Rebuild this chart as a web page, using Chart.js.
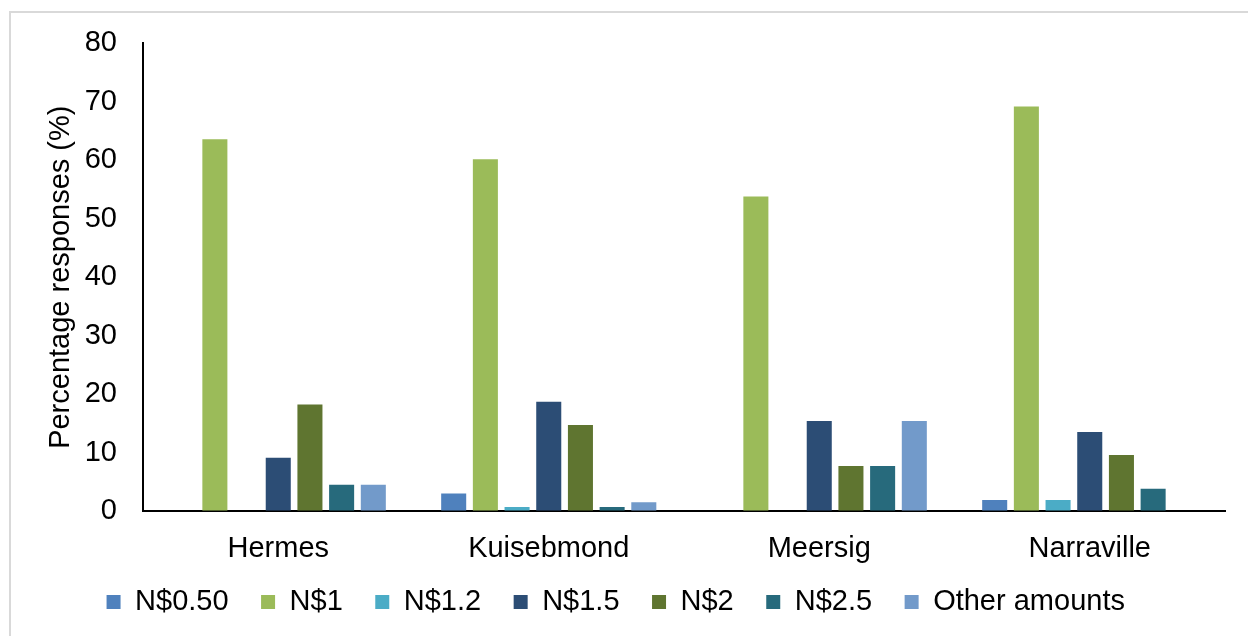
<!DOCTYPE html>
<html>
<head>
<meta charset="utf-8">
<title>Percentage responses by amount</title>
<script src="https://cdn.jsdelivr.net/npm/chart.js@4.4.1/dist/chart.umd.min.js"></script>
<style>
  html, body { margin: 0; padding: 0; background: #ffffff; overflow: hidden; }
  #frame {
    position: absolute; left: 9px; top: 11px;
    width: 1300px; height: 700px;
    border: 2px solid #d9d9d9; box-sizing: border-box;
  }
  #wrap { position: absolute; left: 0; top: 0; width: 1248px; height: 636px; }
</style>
</head>
<body>
<div id="frame"></div>
<div id="wrap"><canvas id="chart"></canvas></div>
<script>
// Areas surveyed
const categories = ['Hermes', 'Kuisebmond', 'Meersig', 'Narraville'];

// Share of responses (%) per amount
const n050  = [0,    3.0,  0,    1.9];
const n1    = [63.6, 60.2, 53.8, 69.2];
const n12   = [0,    0.7,  0,    1.9];
const n15   = [9.1,  18.7, 15.4, 13.5];
const n2    = [18.2, 14.7, 7.7,  9.6];
const n25   = [4.5,  0.7,  7.7,  3.8];
const other = [4.5,  1.5,  15.4, 0];

const seriesNames = ['N$0.50', 'N$1', 'N$1.2', 'N$1.5', 'N$2', 'N$2.5', 'Other amounts'];
const seriesValues = [n050, n1, n12, n15, n2, n25, other];
const seriesColors = ['#4F81BD', '#9BBB59', '#4BACC6', '#2C4D75', '#5F7530', '#276A7C', '#729ACA'];

// Y axis ticks
const yMin = 0, yMax = 80, yStep = 10;
const yTitle = 'Percentage responses (%)';

const FONT = '"Liberation Sans", Arial, Helvetica, sans-serif';

const datasets = seriesNames.map((name, i) => ({
  label: name,
  data: seriesValues[i],
  backgroundColor: seriesColors[i],
  borderWidth: 0,
  categoryPercentage: 0.82,
  barPercentage: 0.79
}));

// Pull the legend row up a little, closer to the category labels
const legendLift = {
  id: 'legendLift',
  afterLayout(chart) {
    const lg = chart.legend;
    if (lg) {
      lg.top -= 9; lg.bottom -= 9;
      lg.left -= 3; lg.right -= 3;
    }
  }
};

new Chart(document.getElementById('chart'), {
  type: 'bar',
  data: { labels: categories, datasets },
  plugins: [legendLift],
  options: {
    responsive: true,
    maintainAspectRatio: false,
    animation: false,
    layout: { padding: { top: 42, left: 12.5, right: 23, bottom: 0.5 } },
    plugins: {
      tooltip: { enabled: false },
      legend: {
        position: 'bottom',
        labels: {
          boxWidth: 14,
          boxHeight: 14,
          padding: 32.5,
          color: '#000',
          font: { family: FONT, size: 29 }
        }
      }
    },
    scales: {
      x: {
        grid: { display: true, drawOnChartArea: false, drawTicks: false },
        border: { display: true, color: '#000', width: 2 },
        ticks: {
          color: '#000',
          padding: 21,
          font: { family: FONT, size: 29 }
        },
        afterFit: (scale) => { scale.height = 53; }
      },
      y: {
        min: yMin,
        max: yMax,
        grid: { display: true, drawOnChartArea: false, drawTicks: false },
        border: { display: true, color: '#000', width: 2 },
        ticks: {
          stepSize: yStep,
          color: '#000',
          padding: 26,
          font: { family: FONT, size: 29 }
        },
        title: {
          display: true,
          text: yTitle,
          color: '#000',
          padding: { top: 31, bottom: 6.5 },
          font: { family: FONT, size: 29 }
        },
        afterFit: (scale) => { scale.width = 130.5; }
      }
    }
  }
});
</script>
</body>
</html>
